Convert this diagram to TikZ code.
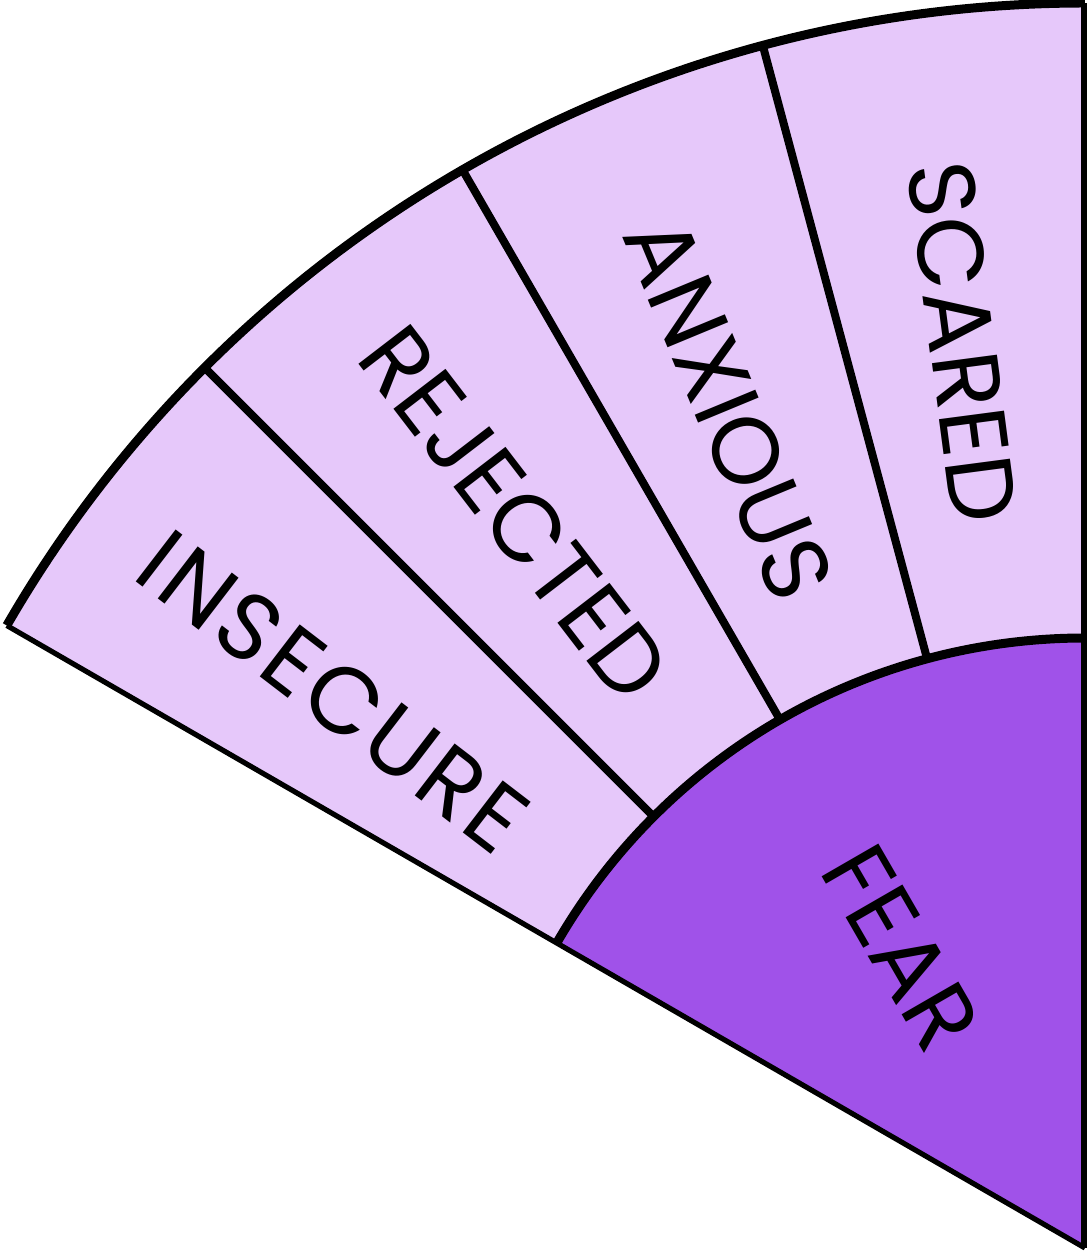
\documentclass[tikz,border=0pt]{standalone}
\usepackage{fontspec}
\setmainfont{Poppins}
\definecolor{lightlav}{HTML}{E6C8FA}
\definecolor{fearpurple}{HTML}{A052E9}
\tikzset{
  ring/.style={line width=2.25pt, line join=round},
  divider/.style={line width=2pt},
  edgeline/.style={line width=1.3pt},
  lbl/.style={font=\fontsize{23.5}{28}\selectfont, inner sep=0pt, text=black}
}
\begin{document}
\begin{tikzpicture}[x=0.25pt,y=0.25pt]
\useasboundingbox (-1085,-6) rectangle (1,1248);
\coordinate (C) at (0,0);
% fills
\fill[lightlav] (C) -- (150:1245) arc[start angle=150,end angle=90,radius=1245] -- cycle;
\fill[fearpurple] (C) -- (150:610) arc[start angle=150,end angle=90,radius=610] -- cycle;
% dividers
\foreach \a in {135,120,105} {
  \draw[divider] (\a:610) -- (\a:1245);
}
% arcs
\draw[ring] (150:1245) arc[start angle=150,end angle=90,radius=1245];
\draw[ring] (150:610) arc[start angle=150,end angle=90,radius=610];
% radial edges
\draw[edgeline] (C) -- (150:1245);
\draw[divider] (C) -- (90:1245);
% labels
\node[lbl, rotate=-37.5] (insecure) at (143.5:935) {\addfontfeature{LetterSpace=4}INSECURE};
\node[lbl, rotate=-52.5] (rejected) at (127.8:930) {REJECTED};
\node[lbl, rotate=-67.5] (anxious) at (113:912) {ANXIOUS};
\node[lbl, rotate=-82.5] (scared) at (97.7:914) {SCARED};
\node[lbl, rotate=-60] (fear) at (121.5:352) {FEAR};
\end{tikzpicture}
\end{document}
